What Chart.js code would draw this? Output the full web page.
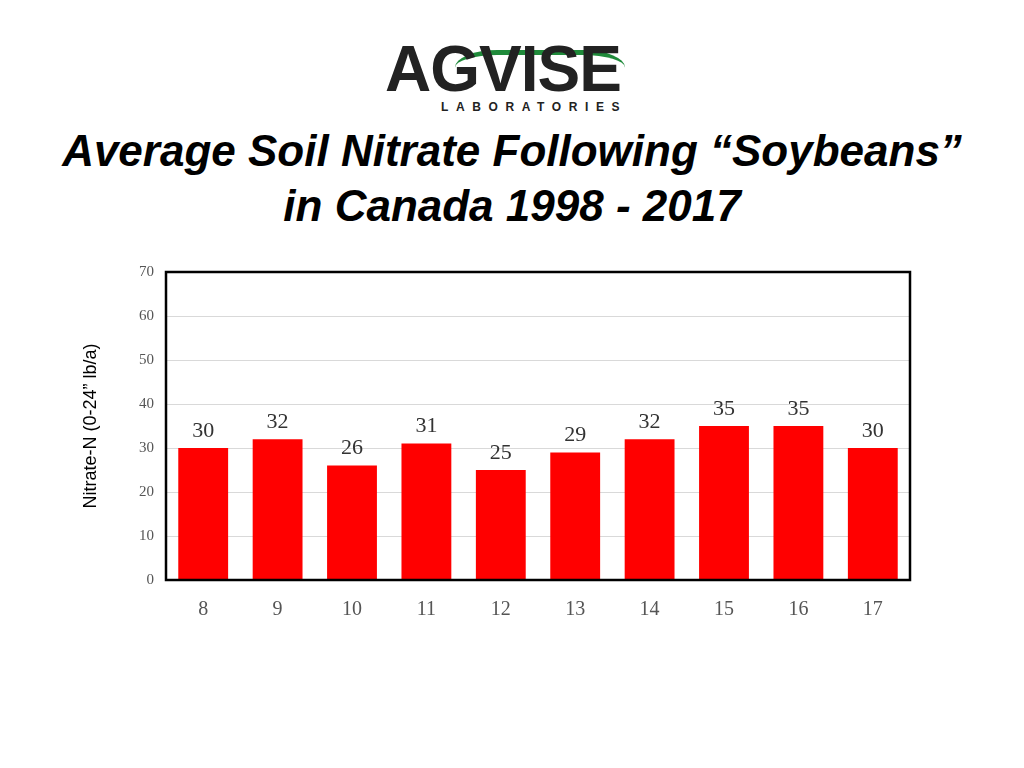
<!DOCTYPE html>
<html><head><meta charset="utf-8">
<script src="https://cdn.jsdelivr.net/npm/chart.js@4"></script>
<style>
body{margin:0;width:1024px;height:768px;background:#fff;position:relative;overflow:hidden;font-family:"Liberation Sans",Arial,sans-serif}
#logo{position:absolute;left:385px;top:36px;width:250px;height:80px}
#logo .big{position:absolute;left:0;top:2px;font:900 64px "Liberation Sans",Arial;letter-spacing:-1px;color:#222;line-height:62px}
#logo .sm{position:absolute;left:56px;top:64px;font:bold 12px "Liberation Sans",Arial;letter-spacing:7.6px;color:#222}
#logo .sw{position:absolute;left:70px;top:14px;width:170px;height:30px;border-top:5px solid #1f8a3a;border-radius:50%/100%;}
.t{position:absolute;left:0;width:1024px;text-align:center;font:italic bold 44px "Liberation Sans",Arial;color:#000}
#wrap{position:absolute;left:60px;top:251px;width:860px;height:381px}
</style></head><body>
<div id="logo"><div class="sw"></div><div class="big">AGVISE</div><div class="sm">LABORATORIES</div></div>
<div class="t" style="top:126px">Average Soil Nitrate Following “Soybeans”</div>
<div class="t" style="top:181px">in Canada 1998 - 2017</div>
<div id="wrap"><canvas id="c" width="860" height="381"></canvas></div>
<script>
const categories=["8","9","10","11","12","13","14","15","16","17"];
const values=[30,32,26,31,25,29,32,35,35,30];
const yTicks=[0,10,20,30,40,50,60,70];
const border={id:'b',afterDraw(c){const a=c.chartArea,x=c.ctx;x.save();x.strokeStyle='#000';x.lineWidth=2.5;x.strokeRect(a.left,a.top,a.right-a.left,a.bottom-a.top);
const m=c.getDatasetMeta(0);x.fillStyle='#333';x.font='22px "Liberation Serif"';x.textAlign='center';x.textBaseline='bottom';
m.data.forEach((e,i)=>x.fillText(values[i],e.x,e.y-6));x.restore();}};
new Chart(document.getElementById('c'),{type:'bar',
data:{labels:categories,datasets:[{data:values,backgroundColor:'#ff0000',barPercentage:0.67,categoryPercentage:1}]},
options:{responsive:false,animation:false,layout:{padding:{top:13,right:10}},
plugins:{legend:{display:false},tooltip:{enabled:false}},
scales:{x:{grid:{display:false},border:{display:false},ticks:{color:'#555',font:{family:'Liberation Serif',size:20},padding:10}},
y:{min:0,max:70,afterBuildTicks:s=>{s.ticks=yTicks.map(v=>({value:v}))},afterFit:s=>{s.width=106},
grid:{color:'#d9d9d9',drawTicks:false},border:{display:false},
ticks:{color:'#555',font:{family:'Liberation Serif',size:15},padding:12},
title:{display:true,text:'Nitrate-N (0-24” lb/a)',color:'#000',font:{family:'Liberation Sans',size:18},padding:{top:20,bottom:4}}}}},
plugins:[border]});
</script></body></html>
